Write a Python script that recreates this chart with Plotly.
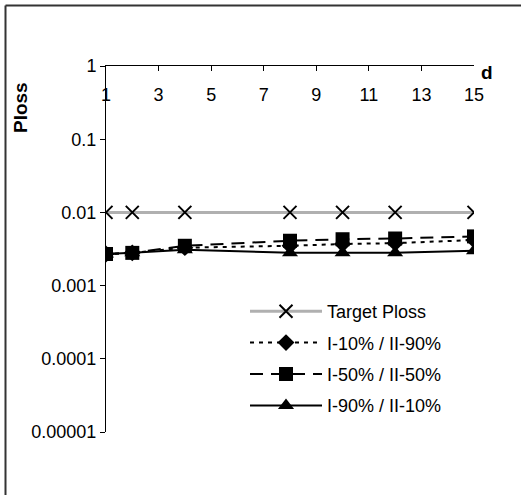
import plotly.graph_objects as go

d = [1, 2, 4, 8, 10, 12, 15]
target = [0.01, 0.01, 0.01, 0.01, 0.01, 0.01, 0.01]
s_10_90 = [0.0027, 0.0028, 0.0033, 0.0035, 0.0037, 0.0038, 0.0042]
s_50_50 = [0.0027, 0.0028, 0.0035, 0.0041, 0.0043, 0.0044, 0.0047]
s_90_10 = [0.0027, 0.0028, 0.0031, 0.0028, 0.0028, 0.0028, 0.0030]

names = ["Target Ploss", "I-10% / II-90%", "I-50% / II-50%", "I-90% / II-10%"]
ytickvals = [1, 0.1, 0.01, 0.001, 0.0001, 0.00001]
yticktext = ["1", "0.1", "0.01", "0.001", "0.0001", "0.00001"]
xtickvals = [1, 3, 5, 7, 9, 11, 13, 15]

FONT = "Liberation Sans, Arial, sans-serif"
FS = 18

fig = go.Figure()
fig.add_trace(go.Scatter(x=d, y=target, name=names[0], mode="lines+markers",
                         line=dict(color="#b0b0b0", width=3),
                         marker=dict(symbol="x-thin", size=13, color="black",
                                     line=dict(color="black", width=2)),
                         legendgroup="a"))
fig.add_trace(go.Scatter(x=d, y=s_10_90, name=names[1], mode="lines+markers",
                         line=dict(color="black", width=2, dash="4px,5px"),
                         marker=dict(symbol="diamond", size=13, color="black"),
                         legendgroup="b"))
fig.add_trace(go.Scatter(x=d, y=s_50_50, name=names[2], mode="lines+markers",
                         line=dict(color="black", width=2, dash="13px,8px"),
                         marker=dict(symbol="square", size=14, color="black"),
                         legendgroup="c"))
fig.add_trace(go.Scatter(x=d, y=s_90_10, name=names[3], mode="lines+markers",
                         line=dict(color="black", width=2),
                         marker=dict(symbol="triangle-up", size=14, color="black"),
                         legendgroup="d"))
# invisible helper trace so the label axis (x2) is drawn
fig.add_trace(go.Scatter(x=d, y=target, xaxis="x2", mode="markers",
                         marker=dict(opacity=0), showlegend=False,
                         hoverinfo="skip"))

L, R, T, B = 106, 47, 66, 63
W, H = 521, 495
pw, ph = W - L - R, H - T - B

def px(x):
    return (x - L) / pw

def py(y):
    return 1 - (y - T) / ph

fig.update_layout(
    width=W, height=H,
    margin=dict(l=L, r=R, t=T, b=B),
    paper_bgcolor="white", plot_bgcolor="white",
    font=dict(family=FONT, size=FS, color="black"),
    showlegend=True,
    legend=dict(x=px(245), y=py(293), xanchor="left", yanchor="top",
                bgcolor="rgba(0,0,0,0)", itemwidth=72, tracegroupgap=5,
                traceorder="grouped", font=dict(size=FS, family=FONT, color="black")),
    xaxis=dict(range=[1, 15], side="top", tickvals=xtickvals,
               ticks="inside", ticklen=5, tickcolor="black",
               showticklabels=False, showline=True, linecolor="black",
               linewidth=1, showgrid=False, zeroline=False),
    xaxis2=dict(range=[1, 15], overlaying="x", anchor="free", position=1,
                side="bottom", tickvals=xtickvals, ticks="", showline=False,
                showgrid=False, zeroline=False, ticklabelstandoff=16,
                tickfont=dict(size=FS, color="black", family=FONT)),
    yaxis=dict(type="log", range=[-5, 0], tickvals=ytickvals, ticktext=yticktext,
               ticks="outside", ticklen=5, tickcolor="black", showline=True,
               linecolor="black", linewidth=1, showgrid=False, zeroline=False,
               tickfont=dict(size=FS, color="black", family=FONT)),
    annotations=[
        dict(text="<b>Ploss</b>", textangle=-90, x=px(20), y=py(108),
             xanchor="center", yanchor="middle",
             xref="paper", yref="paper", showarrow=False,
             font=dict(size=19, family=FONT, color="black")),
        dict(text="<b>d</b>", x=px(487), y=py(72), xanchor="center", yanchor="middle",
             xref="paper", yref="paper",
             showarrow=False, font=dict(size=19, family=FONT, color="black")),
    ],
    shapes=[
        dict(type="line", xref="paper", yref="paper", x0=px(5.5), x1=px(530),
             y0=py(5.5), y1=py(5.5), line=dict(color="#333333", width=2)),
        dict(type="line", xref="paper", yref="paper", x0=px(5.5), x1=px(5.5),
             y0=py(5.5), y1=py(500), line=dict(color="#333333", width=2)),
    ],
)

fig.write_html("out.html")
